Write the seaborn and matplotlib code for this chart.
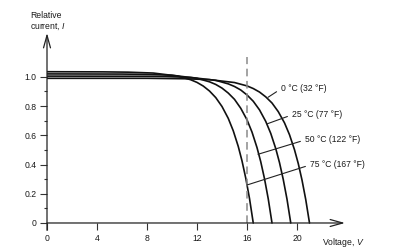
import matplotlib
matplotlib.use("Agg")
import matplotlib.pyplot as plt
import seaborn as sns
import pandas as pd

# ---- data ----
v_0C = [0, 8, 11, 13, 15, 16, 16.5, 17, 17.5, 18, 18.5, 19, 19.4, 19.8, 20.1, 20.4, 20.7, 21.0]
i_0C = [0.99, 0.99, 0.987, 0.981, 0.961, 0.938, 0.920, 0.896, 0.863, 0.821, 0.762, 0.685, 0.604, 0.501, 0.407, 0.294, 0.160, 0.0]

v_25C = [0, 8, 9.5, 11.5, 13.5, 14.5, 15, 15.5, 16, 16.5, 17, 17.5, 17.9, 18.3, 18.6, 18.9, 19.2, 19.5]
i_25C = [1.005, 1.004, 1.002, 0.996, 0.976, 0.952, 0.934, 0.910, 0.876, 0.833, 0.774, 0.695, 0.613, 0.509, 0.413, 0.298, 0.163, 0.0]

v_50C = [0, 6, 8, 10, 12, 13, 13.5, 14, 14.5, 15, 15.5, 16, 16.4, 16.8, 17.1, 17.4, 17.7, 18.0]
i_50C = [1.02, 1.019, 1.017, 1.011, 0.990, 0.966, 0.948, 0.923, 0.889, 0.846, 0.785, 0.706, 0.622, 0.516, 0.419, 0.303, 0.165, 0.0]

v_75C = [0, 4.5, 6.5, 8.5, 10.5, 11.5, 12, 12.5, 13, 13.5, 14, 14.5, 14.9, 15.3, 15.6, 15.9, 16.2, 16.5]
i_75C = [1.035, 1.034, 1.032, 1.026, 1.005, 0.980, 0.962, 0.937, 0.903, 0.858, 0.797, 0.716, 0.631, 0.524, 0.425, 0.307, 0.168, 0.0]

series_labels = ["0 °C (32 °F)", "25 °C (77 °F)", "50 °C (122 °F)", "75 °C (167 °F)"]
# point on each curve where the label leader attaches, and label anchor
label_anchor_v = [17.68, 17.6, 16.88, 16.0]
label_anchor_i = [0.86, 0.678, 0.47, 0.26]
label_text_v = [18.72, 19.6, 20.64, 21.04]
label_text_i = [0.918, 0.74, 0.568, 0.397]

x_ticks = [0, 4, 8, 12, 16, 20]
y_ticks = [0, 0.2, 0.4, 0.6, 0.8, 1.0]
y_tick_labels = ["0", "0.2", "0.4", "0.6", "0.8", "1.0"]
y_minor = [0.1, 0.3, 0.5, 0.7, 0.9]
ref_voltage = 16
ref_top = 1.137

frames = []
for lab, v, i in zip(series_labels, [v_0C, v_25C, v_50C, v_75C], [i_0C, i_25C, i_50C, i_75C]):
    frames.append(pd.DataFrame({"V": v, "I": i, "T": lab}))
df = pd.concat(frames, ignore_index=True)

sns.set_style("white")
plt.rcParams["font.family"] = ["Liberation Sans", "DejaVu Sans"]
plt.rcParams["mathtext.fontset"] = "custom"
plt.rcParams["mathtext.it"] = "Liberation Sans:italic"
plt.rcParams["mathtext.rm"] = "Liberation Sans"

FS = 6.2
TC = "#1a1a1a"

fig = plt.figure(figsize=(4.01, 2.49), dpi=100)
fig.patch.set_facecolor("white")
ax = fig.add_axes([47 / 401, (249 - 230.3) / 249, 298 / 401, (230.3 - 33) / 249])

sns.lineplot(data=df, x="V", y="I", hue="T", palette=["#111111"] * 4,
             estimator=None, sort=False, legend=False, linewidth=1.2, ax=ax)

ax.vlines(ref_voltage, 0, ref_top, colors="#8a8a8a", linestyles=(0, (5, 3)), linewidth=1.1)

ax.set_xlim(0, 23.84)
ax.set_ylim(-0.05, 1.30)

for s in ["top", "right"]:
    ax.spines[s].set_visible(False)
ax.spines["bottom"].set_position(("data", 0))
ax.spines["bottom"].set_visible(False)
ax.spines["left"].set_visible(False)

# axis arrows
ax.annotate("", xy=(23.84, 0), xytext=(0, 0), xycoords="data", textcoords="data",
            arrowprops=dict(arrowstyle="->,head_length=0.9,head_width=0.25", lw=0.9, color="#222222",
                            shrinkA=0, shrinkB=0))
ax.annotate("", xy=(0, 1.30), xytext=(0, -0.05), xycoords="data", textcoords="data",
            arrowprops=dict(arrowstyle="->,head_length=0.9,head_width=0.25", lw=0.9, color="#222222",
                            shrinkA=0, shrinkB=0))

ax.set_xticks(x_ticks)
ax.set_xticklabels([str(t) for t in x_ticks])
ax.set_yticks(y_ticks)
ax.set_yticklabels(y_tick_labels)
ax.set_yticks(y_minor, minor=True)
ax.tick_params(axis="both", which="major", direction="out", length=5, width=0.8,
               color="#333333", labelsize=FS, labelcolor=TC, pad=2.5)
ax.tick_params(axis="y", which="minor", direction="out", length=2.5, width=0.8, color="#333333")
ax.tick_params(axis="x", which="major", pad=3)
ax.xaxis.set_ticks_position("bottom")
ax.yaxis.set_ticks_position("left")
ax.set_xlabel("")
ax.set_ylabel("")

for lab, av, ai, tv, ti in zip(series_labels, label_anchor_v, label_anchor_i, label_text_v, label_text_i):
    ax.annotate(lab, xy=(av, ai), xytext=(tv, ti), fontsize=FS, color=TC,
                va="center", ha="left", annotation_clip=False,
                arrowprops=dict(arrowstyle="-", lw=0.8, color="#222222",
                                relpos=(0, 0.5), shrinkA=1, shrinkB=0))

fig.text(30 / 401, 1 - 11 / 249, "Relative\ncurrent, $I$", fontsize=FS, color=TC,
         ha="left", va="top", linespacing=1.25)
fig.text(322 / 401, 1 - 242 / 249, "Voltage, $V$", fontsize=FS, color=TC,
         ha="left", va="center")

fig.savefig("out.png", dpi=100, facecolor="white")
